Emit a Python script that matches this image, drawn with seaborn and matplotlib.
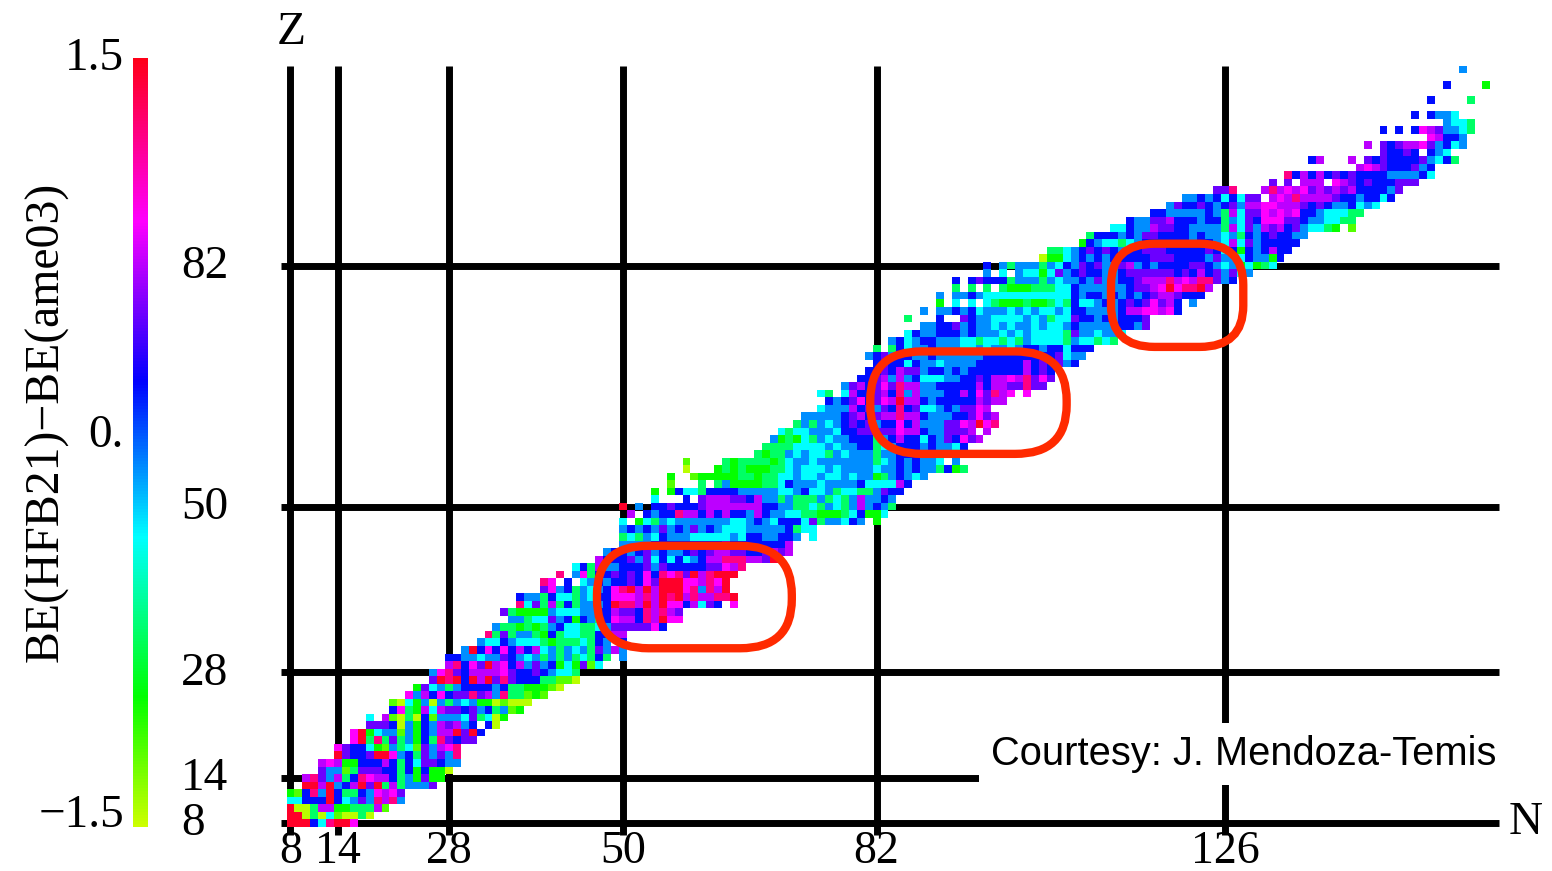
import numpy as np
import pandas as pd
import matplotlib.pyplot as plt
import seaborn as sns
from matplotlib.colors import LinearSegmentedColormap
from matplotlib.patches import FancyBboxPatch
from matplotlib.transforms import ScaledTranslation

# proton number of each row, first neutron number in it, then one letter per cell
z_rows = [8, 9, 10, 11, 12, 13, 14, 15, 16, 17, 18, 19, 20, 21, 22, 23, 24, 25, 26, 27, 28,
          29, 30, 31, 32, 33, 34, 35, 36, 37, 38, 39, 40, 41, 42, 43, 44, 45, 46, 47, 48,
          49, 50, 51, 52, 53, 54, 55, 56, 57, 58, 59, 60, 61, 62, 63, 64, 65, 66, 67, 68,
          69, 70, 71, 72, 73, 74, 75, 76, 77, 78, 79, 80, 81, 82, 83, 84, 85, 86, 87, 88,
          89, 90, 91, 92, 93, 94, 95, 96, 97, 98, 99, 100, 101, 102, 104, 106, 108]
first_n = [8, 8, 8, 8, 8, 10, 10, 12, 12, 14, 14, 16, 16, 18, 18, 21, 21, 23, 24, 26, 26,
           28, 28, 30, 32, 33, 34, 36, 35, 37, 37, 40, 40, 42, 44, 47, 48, 50, 50, 50, 50,
           51, 50, 54, 54, 56, 56, 58, 58, 67, 68, 69, 70, 72, 73, 75, 76, 75, 78, 80, 81,
           82, 81, 82, 84, 86, 88, 86, 88, 90, 90, 92, 92, 96, 96, 103, 104, 108, 109, 112, 114,
           117, 119, 121, 125, 132, 134, 143, 137, 146, 144, 152, 146, 154, 150, 152, 154, 156]
row_cells = [
    "rrrbcprrm", "rrYtYclYYtY", "rYYtvvggtttvl", "ccbbbrbcaiapvpa", "glbparbttbamvmi",
    "rrvrabvrirtvtaaai", "vpiavtbpmvvbtagigg", "iaaltiiibbtbgbggY", "vmvggbbbvbtbciibaa",
    "ribbirrmabtiaiap", "mibbcglatcliavmp", "mrtptitagbtpibii", "mrgcaalagbavvrirb",
    "iiibYagbavivab_bY", "c_vlYtYblaaacitcYg", "bmtgvcviibiabtalg", "lYcgaYatacaggYlYYY",
    "mavbmbiipivapttlgl", "gicatabbbbabttggglY", "irprbrvripibbbttllY", "ampibvvvvmibbibacct",
    "vpbmirvmbvaiabgcgilc", "bbaacaaibacatatatctbt_a", "arbmbmbvbvcatacatiava",
    "accbaccctgtttctba_b", "ptitaatgbtccttbbvv", "attgtgtabccttcaiiiiimb",
    "aatcciabgbatbmvvbpvrmm", "itggggacccaabbviibpvpvi", "pcitvtbtaaabrppvrvrmmbvcib_m",
    "baatbcctacbbmmmvpvrprvpvvppr", "imabtacabmprvrvrrrmpapvr", "pm_b_cababbibmirrrmmvpmr",
    "p_amtbbibibmbpmpirvprrr", "cbtvaabbbiaibbbbbiimvp", "vbbbiaicbcbcabvvpppvvir",
    "abbabiabaabibivviibbiviv", "aaaabbbbbbbbbibbbbbbbv", "tctacbaaacccccacbbaabba_c",
    "ababaiabaiabacccaaaaabtcc", "c_gctacaaaaaaaccabacbbbcitaacba_g",
    "v_babbpvvbvbvbbavbaaccttgggtcbggc", "r_a_bbibbbivvvvvvvbbaattctactavabat",
    "c___b_ivvviibvaatatttatctavaaba", "g_gbcctbbbbaaaaaccabccatccttaibb",
    "l___t_taggggttcbaaacaaaabccccvb", "g__lgggggttgttccaccaccacaagtabaca",
    "Y___gtgtgggttcacccacaaaacaababaatbgt", "l____tgttttgtcaacaaaaaaatcababaac_a",
    "tgttacacctacaaataabbbabaaa", "ttttccccacaabbtcabbbabaacb", "agtgctacaabbbtabvbbcbaibmiv",
    "ctccaaacbbiiiiimvvbaaiiiv_v", "tatacabibiabbmbvaaaiimvrmp", "aaaaabivbivvpvvbaaabbimiv",
    "caaavbiaibpbiccabaiimv", "babimbimvrvvbabbbbbvivv", "ct_cvbbivbpavaaabbvbmipvm_m",
    "aivbimipvvaabbbbbvbvviipii", "bbivavabcccaabbibvvmvpimi", "bbibviiabbababbbbbbbvbib",
    "bibbcbaacaaaabbbbbbvbibiab", "abiabbaabaaaaaabbbbbbbbbicaa", "t_tbcaabaaaccacaacabbabbcbbb",
    "abcabbaaacctcctctacccctacctct", "cbaabbbabaaacacacccctiaacaac",
    "aabbiabaacacaacaccabaaaaabbai", "t___b__ibaaccccacatccibbababbbi",
    "a_aababcaaacacaccacbbaaaabvvmmvmb", "g_c_c_ctgggtggtctbccababibimivb_a",
    "a_aabacccccccccccbabbabababivvibbb", "t_t_t_tgggtttccbaaaaaabiivmrmpprv",
    "b_bibbbtaaatacaabaiaabbivvvpvmvppiab", "a_c_accgciabibbaabiiiiiibibvbiaica",
    "b_ataaatacbaibiaaivababbbbiibacagcgtc", "Yggcababab" + "bbbbiiibbbbaiaacbaagb",
    "ttcabibibabbiiibbbbbibcbgbabvbb", "gbacctcabbbbbbabbacvciabbbbb",
    "tbbbabaiibbbbabaacatbabibbaa", "ccbaaviibbaaaatvciavivbiacctg_l",
    "baaiivbbbabbtacibmmmiibaacctt", "bbaaaaabatvciimvmvmbbaccctt",
    "aibbibabiavvmmvvvibibaabcac", "aababcbcii_vmvpvvvvibbabbcb", "iip___vpvmvmivivivbbbbai",
    "i_i_vvv_mvibibbbiii", "pbvbvbibibbbbaaaabc", "vmvibbbiab", "bv___v_ibibbbbiacbt",
    "ibbib_bac", "v_ibivvmiabca", "mvbba", "b_b_bmviaact", "acct", "b_baac", "b____t",
    "b____g", "a",
]
# value for each letter
level_names = list("Ylgtcabivmpr")
level_values = [-1.45, -1.2, -1.0, -0.75, -0.37, -0.1, 0.2, 0.5, 0.7, 0.86, 1.2, 1.45]

magic_n = [8, 14, 28, 50, 82, 126]
magic_z = [8, 14, 28, 50, 82]
# N min, N max, Z min, Z max, corner radius of the red frames
frame_n0 = [46.7, 81.2, 111.6]
frame_n1 = [71.3, 106.0, 128.3]
frame_z0 = [31.2, 57.0, 71.2]
frame_z1 = [44.8, 70.6, 84.9]
frame_round = [6.5, 6.5, 5.5]

sns.set_theme(style="white", rc={"text.color": "black", "xtick.color": "black",
                                 "ytick.color": "black"})
plt.rcParams["font.family"] = ["Liberation Serif", "DejaVu Serif"]

W, H = 1552, 871
fig = plt.figure(figsize=(W / 100, H / 100), dpi=100)


def box(x0, y0, x1, y1):
    # pixel box, y measured from the top of the picture
    return [x0 / W, 1 - y1 / H, (x1 - x0) / W, (y1 - y0) / H]


ax = fig.add_axes(box(286.5, 65.9, 1490.4, 826.8))
cax = fig.add_axes(box(133, 58, 148, 827))

cmap = LinearSegmentedColormap.from_list("be_diff", [
    (0.0, "#ccff00"), (0.168, "#00ff00"), (0.377, "#00ffff"), (0.579, "#0000ff"),
    (0.788, "#ff00ff"), (1.0, "#ff0018")], N=256)

n_axis = np.arange(8, 160)
z_axis = np.arange(8, 109)
grid = pd.DataFrame(np.nan, index=z_axis, columns=n_axis)
level_of = dict(zip(level_names, level_values))
for z, n0, cells in zip(z_rows, first_n, row_cells):
    for k, c in enumerate(cells):
        if c != "_":
            grid.loc[z, n0 + k] = level_of[c]

sns.heatmap(grid, ax=ax, cmap=cmap, vmin=-1.5, vmax=1.5, cbar_ax=cax, linewidths=0,
            xticklabels=False, yticklabels=False)
ax.invert_yaxis()
ax.set_xlabel("")
ax.set_ylabel("")

# magic number lines sit under the cells and run past the axes
n_pos = [n - 8 + 0.5 for n in magic_n]
z_pos = [z - 8 + 0.5 for z in magic_z]
ax.vlines(n_pos, -1.1, 101, color="black", lw=5, zorder=0.5, clip_on=False)
ax.hlines(z_pos, -0.7, 153.1, color="black", lw=5, zorder=0.5, clip_on=False)

ax.set_xticks(n_pos, [str(n) for n in magic_n], fontsize=33)
ax.set_yticks(z_pos, [str(z) for z in magic_z], fontsize=34)
ax.tick_params(axis="x", length=0, pad=3)
ax.tick_params(axis="y", length=0, pad=76)
lift = ScaledTranslation(0, 4 / 100, fig.dpi_scale_trans)
for lab in ax.get_yticklabels():
    lab.set_ha("left")
    lab.set_transform(lab.get_transform() + lift)

for n0, n1, z0, z1, r in zip(frame_n0, frame_n1, frame_z0, frame_z1, frame_round):
    ax.add_patch(FancyBboxPatch((n0 - 7.5, z0 - 7.5), n1 - n0, z1 - z0,
                                boxstyle=f"round,pad=0,rounding_size={r}", fc="none",
                                ec="#ff2a00", lw=6, zorder=3, clip_on=False))

ax.text(152.8, 9.65, "Courtesy: J. Mendoza-Temis", ha="right", va="center", fontsize=28.7,
        family="Liberation Sans", color="black", zorder=4,
        bbox=dict(fc="white", ec="none", pad=9))
ax.annotate("Z", xy=(0.5, 101), xytext=(1, 33), xycoords="data", textcoords="offset pixels",
            ha="center", va="center", fontsize=34, annotation_clip=False)
ax.annotate("N", xy=(152, 0.5), xytext=(18, 0), xycoords="data", textcoords="offset pixels",
            ha="left", va="center", fontsize=34, annotation_clip=False)

cbar = ax.collections[0].colorbar
cbar.outline.set_visible(False)
cbar.set_ticks([])
for label, value, dy in zip(["1.5", "0.", "\u22121.5"], [1.5, 0.0, -1.5], [-1, 7, 11]):
    cax.annotate(label, xy=(0, value), xycoords=("axes fraction", "data"), xytext=(-9, dy),
                 textcoords="offset pixels", ha="right", va="center", fontsize=34,
                 annotation_clip=False)

fig.text(47 / W, 1 - 422 / H, "BE(HFB21)\u2212BE(ame03)", rotation=90, ha="center",
         va="center", fontsize=34.4)

fig.savefig("out.png", dpi=100, facecolor="white")
